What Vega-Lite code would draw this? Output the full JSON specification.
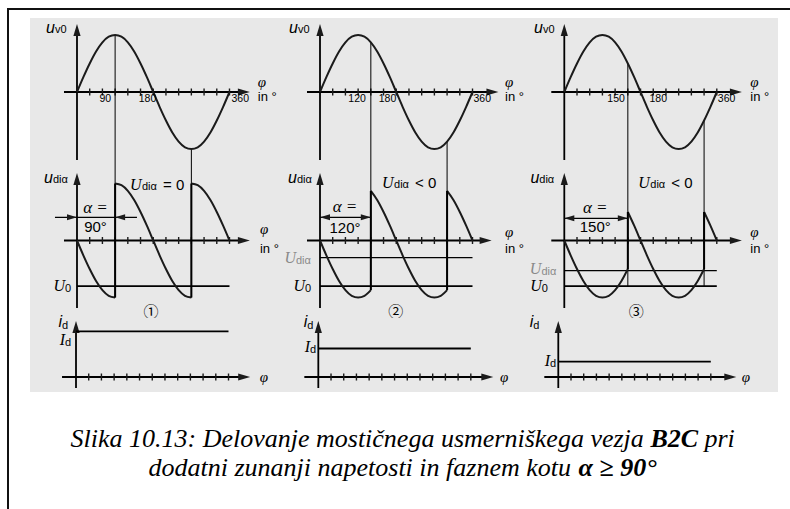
{
  "$schema": "https://vega.github.io/schema/vega-lite/v6.json",
  "padding": {"left": 7, "top": 8, "right": 0, "bottom": 0},
  "background": "white",
  "spacing": 0,
  "datasets": {
    "frame": [{"from": 0, "to": 1, "low": 0, "high": 1}],
    "sine": [
      {"phi": 0, "u": 0}, {"phi": 15, "u": 0.26}, {"phi": 30, "u": 0.5}, {"phi": 45, "u": 0.71},
      {"phi": 60, "u": 0.87}, {"phi": 75, "u": 0.97}, {"phi": 90, "u": 1}, {"phi": 105, "u": 0.97},
      {"phi": 120, "u": 0.87}, {"phi": 135, "u": 0.71}, {"phi": 150, "u": 0.5}, {"phi": 165, "u": 0.26},
      {"phi": 180, "u": 0}, {"phi": 195, "u": -0.26}, {"phi": 210, "u": -0.5}, {"phi": 225, "u": -0.71},
      {"phi": 240, "u": -0.87}, {"phi": 255, "u": -0.97}, {"phi": 270, "u": -1}, {"phi": 285, "u": -0.97},
      {"phi": 300, "u": -0.87}, {"phi": 315, "u": -0.71}, {"phi": 330, "u": -0.5}, {"phi": 345, "u": -0.26},
      {"phi": 360, "u": 0}
    ],
    "udi": [
      {"col": 1, "seg": "a", "phi": 0, "u": 0}, {"col": 1, "seg": "a", "phi": 15, "u": -0.26}, {"col": 1, "seg": "a", "phi": 30, "u": -0.5},
      {"col": 1, "seg": "a", "phi": 45, "u": -0.71}, {"col": 1, "seg": "a", "phi": 60, "u": -0.87}, {"col": 1, "seg": "a", "phi": 75, "u": -0.97},
      {"col": 1, "seg": "a", "phi": 90, "u": -1},
      {"col": 1, "seg": "b", "phi": 90, "u": 1}, {"col": 1, "seg": "b", "phi": 105, "u": 0.97}, {"col": 1, "seg": "b", "phi": 120, "u": 0.87},
      {"col": 1, "seg": "b", "phi": 135, "u": 0.71}, {"col": 1, "seg": "b", "phi": 150, "u": 0.5}, {"col": 1, "seg": "b", "phi": 165, "u": 0.26},
      {"col": 1, "seg": "b", "phi": 180, "u": 0}, {"col": 1, "seg": "b", "phi": 195, "u": -0.26}, {"col": 1, "seg": "b", "phi": 210, "u": -0.5},
      {"col": 1, "seg": "b", "phi": 225, "u": -0.71}, {"col": 1, "seg": "b", "phi": 240, "u": -0.87}, {"col": 1, "seg": "b", "phi": 255, "u": -0.97},
      {"col": 1, "seg": "b", "phi": 270, "u": -1},
      {"col": 1, "seg": "c", "phi": 270, "u": 1}, {"col": 1, "seg": "c", "phi": 285, "u": 0.97}, {"col": 1, "seg": "c", "phi": 300, "u": 0.87},
      {"col": 1, "seg": "c", "phi": 315, "u": 0.71}, {"col": 1, "seg": "c", "phi": 330, "u": 0.5}, {"col": 1, "seg": "c", "phi": 345, "u": 0.26},
      {"col": 1, "seg": "c", "phi": 360, "u": 0},
      {"col": 2, "seg": "a", "phi": 0, "u": 0}, {"col": 2, "seg": "a", "phi": 15, "u": -0.26}, {"col": 2, "seg": "a", "phi": 30, "u": -0.5},
      {"col": 2, "seg": "a", "phi": 45, "u": -0.71}, {"col": 2, "seg": "a", "phi": 60, "u": -0.87}, {"col": 2, "seg": "a", "phi": 75, "u": -0.97},
      {"col": 2, "seg": "a", "phi": 90, "u": -1}, {"col": 2, "seg": "a", "phi": 105, "u": -0.97}, {"col": 2, "seg": "a", "phi": 120, "u": -0.87},
      {"col": 2, "seg": "b", "phi": 120, "u": 0.87}, {"col": 2, "seg": "b", "phi": 135, "u": 0.71}, {"col": 2, "seg": "b", "phi": 150, "u": 0.5},
      {"col": 2, "seg": "b", "phi": 165, "u": 0.26}, {"col": 2, "seg": "b", "phi": 180, "u": 0}, {"col": 2, "seg": "b", "phi": 195, "u": -0.26},
      {"col": 2, "seg": "b", "phi": 210, "u": -0.5}, {"col": 2, "seg": "b", "phi": 225, "u": -0.71}, {"col": 2, "seg": "b", "phi": 240, "u": -0.87},
      {"col": 2, "seg": "b", "phi": 255, "u": -0.97}, {"col": 2, "seg": "b", "phi": 270, "u": -1}, {"col": 2, "seg": "b", "phi": 285, "u": -0.97},
      {"col": 2, "seg": "b", "phi": 300, "u": -0.87},
      {"col": 2, "seg": "c", "phi": 300, "u": 0.87}, {"col": 2, "seg": "c", "phi": 315, "u": 0.71}, {"col": 2, "seg": "c", "phi": 330, "u": 0.5},
      {"col": 2, "seg": "c", "phi": 345, "u": 0.26}, {"col": 2, "seg": "c", "phi": 360, "u": 0},
      {"col": 3, "seg": "a", "phi": 0, "u": 0}, {"col": 3, "seg": "a", "phi": 15, "u": -0.26}, {"col": 3, "seg": "a", "phi": 30, "u": -0.5},
      {"col": 3, "seg": "a", "phi": 45, "u": -0.71}, {"col": 3, "seg": "a", "phi": 60, "u": -0.87}, {"col": 3, "seg": "a", "phi": 75, "u": -0.97},
      {"col": 3, "seg": "a", "phi": 90, "u": -1}, {"col": 3, "seg": "a", "phi": 105, "u": -0.97}, {"col": 3, "seg": "a", "phi": 120, "u": -0.87},
      {"col": 3, "seg": "a", "phi": 135, "u": -0.71}, {"col": 3, "seg": "a", "phi": 150, "u": -0.5},
      {"col": 3, "seg": "b", "phi": 150, "u": 0.5}, {"col": 3, "seg": "b", "phi": 165, "u": 0.26}, {"col": 3, "seg": "b", "phi": 180, "u": 0},
      {"col": 3, "seg": "b", "phi": 195, "u": -0.26}, {"col": 3, "seg": "b", "phi": 210, "u": -0.5}, {"col": 3, "seg": "b", "phi": 225, "u": -0.71},
      {"col": 3, "seg": "b", "phi": 240, "u": -0.87}, {"col": 3, "seg": "b", "phi": 255, "u": -0.97}, {"col": 3, "seg": "b", "phi": 270, "u": -1},
      {"col": 3, "seg": "b", "phi": 285, "u": -0.97}, {"col": 3, "seg": "b", "phi": 300, "u": -0.87}, {"col": 3, "seg": "b", "phi": 315, "u": -0.71},
      {"col": 3, "seg": "b", "phi": 330, "u": -0.5},
      {"col": 3, "seg": "c", "phi": 330, "u": 0.5}, {"col": 3, "seg": "c", "phi": 345, "u": 0.26}, {"col": 3, "seg": "c", "phi": 360, "u": 0}
    ],
    "jumps": [
      {"col": 1, "phi": 90, "lo": -1, "hi": 1}, {"col": 1, "phi": 270, "lo": -1, "hi": 1},
      {"col": 2, "phi": 120, "lo": -0.87, "hi": 0.87}, {"col": 2, "phi": 300, "lo": -0.87, "hi": 0.87},
      {"col": 3, "phi": 150, "lo": -0.5, "hi": 0.5}, {"col": 3, "phi": 330, "lo": -0.5, "hi": 0.5}
    ],
    "guides": [
      {"col": 1, "phi": 90, "top": 1, "bottom": -1}, {"col": 1, "phi": 270, "top": -1, "bottom": -1},
      {"col": 2, "phi": 120, "top": 0.87, "bottom": -0.87}, {"col": 2, "phi": 300, "top": -0.87, "bottom": -0.87},
      {"col": 3, "phi": 150, "top": 0.5, "bottom": -0.8}, {"col": 3, "phi": 330, "top": -0.5, "bottom": -0.8}
    ],
    "levels": [
      {"col": 1, "name": "U0", "u": -0.8, "from": 0, "to": 360},
      {"col": 2, "name": "U0", "u": -0.8, "from": 0, "to": 360}, {"col": 2, "name": "Udi", "u": -0.3, "from": 0, "to": 360},
      {"col": 3, "name": "U0", "u": -0.8, "from": 0, "to": 360}, {"col": 3, "name": "Udi", "u": -0.53, "from": 0, "to": 360}
    ],
    "current": [
      {"col": 1, "id": 0.8, "from": 0, "to": 360},
      {"col": 2, "id": 0.5, "from": 0, "to": 360},
      {"col": 3, "id": 0.27, "from": 0, "to": 360}
    ],
    "ticks": [
      {"phi": 30, "u": 0, "id": 0}, {"phi": 60, "u": 0, "id": 0}, {"phi": 90, "u": 0, "id": 0}, {"phi": 120, "u": 0, "id": 0},
      {"phi": 150, "u": 0, "id": 0}, {"phi": 180, "u": 0, "id": 0}, {"phi": 210, "u": 0, "id": 0}, {"phi": 240, "u": 0, "id": 0},
      {"phi": 270, "u": 0, "id": 0}, {"phi": 300, "u": 0, "id": 0}, {"phi": 330, "u": 0, "id": 0}, {"phi": 360, "u": 0, "id": 0}
    ]
  },
  "config": {
    "view": {"stroke": null},
    "axis": {"disable": true},
    "mark": {"color": "#1b1b1b"},
    "style": {
      "axisLine": {"stroke": "#1b1b1b", "strokeWidth": 1.8},
      "thinLine": {"stroke": "#1b1b1b", "strokeWidth": 1.3},
      "wave": {"stroke": "#161616", "strokeWidth": 2},
      "guide": {"stroke": "#505050", "strokeWidth": 1},
      "level": {"stroke": "#1b1b1b", "strokeWidth": 1.8},
      "levelThin": {"stroke": "#333333", "strokeWidth": 1.2},
      "num": {"font": "Liberation Sans", "fontSize": 10.5, "fill": "#1b1b1b"},
      "sym": {"font": "Liberation Sans", "fontSize": 16, "fontStyle": "italic", "fill": "#111111"},
      "symSerif": {"font": "Liberation Serif", "fontSize": 16, "fontStyle": "italic", "fill": "#111111"},
      "sub": {"font": "Liberation Sans", "fontSize": 11, "fill": "#111111"},
      "word": {"font": "Liberation Sans", "fontSize": 13, "fill": "#111111"},
      "val": {"font": "Liberation Sans", "fontSize": 15, "fill": "#111111"},
      "greek": {"font": "Liberation Serif", "fontSize": 15, "fontStyle": "italic", "fill": "#111111"},
      "alpha": {"font": "Liberation Serif", "fontSize": 17, "fontStyle": "italic", "fill": "#111111"},
      "circled": {"font": "Noto Sans CJK JP", "fontSize": 15, "fill": "#1b1b1b"},
      "caption": {"font": "Liberation Serif", "fontSize": 26, "fontStyle": "italic", "fill": "#000000"},
      "captionKey": {"font": "Liberation Serif", "fontSize": 26, "fontStyle": "italic", "fontWeight": "bold", "fill": "#000000"}
    }
  },
  "hconcat": [
    {
      "width": 2, "height": 501, "data": {"name": "frame"},
      "view": {"fill": "#111111", "stroke": null},
      "mark": {"type": "rect", "color": "#111111"},
      "encoding": {
        "x": {"field": "from", "type": "quantitative", "axis": null, "scale": {"domain": [0, 1], "nice": false, "zero": false}},
        "x2": {"field": "to"},
        "y": {"field": "low", "type": "quantitative", "axis": null, "scale": {"domain": [0, 1], "nice": false, "zero": false}},
        "y2": {"field": "high"}
      }
    },
    {
      "spacing": 32,
      "vconcat": [
        {
          "columns": 5, "spacing": 0, "bounds": "flush", "align": "each",
          "concat": [
            {"width": 21, "height": 2, "data": {"name": "frame"}, "view": {"fill": "#111111", "stroke": null}, "mark": {"type": "rect", "color": "#111111"}, "encoding": {"x": {"field": "from", "type": "quantitative", "axis": null, "scale": {"domain": [0, 1], "nice": false, "zero": false}}, "x2": {"field": "to"}, "y": {"field": "low", "type": "quantitative", "axis": null, "scale": {"domain": [0, 1], "nice": false, "zero": false}}, "y2": {"field": "high"}}},
            {"width": 249, "height": 2, "data": {"name": "frame"}, "view": {"fill": "#111111", "stroke": null}, "mark": {"type": "rect", "color": "#111111"}, "encoding": {"x": {"field": "from", "type": "quantitative", "axis": null, "scale": {"domain": [0, 1], "nice": false, "zero": false}}, "x2": {"field": "to"}, "y": {"field": "low", "type": "quantitative", "axis": null, "scale": {"domain": [0, 1], "nice": false, "zero": false}}, "y2": {"field": "high"}}},
            {"width": 249, "height": 2, "data": {"name": "frame"}, "view": {"fill": "#111111", "stroke": null}, "mark": {"type": "rect", "color": "#111111"}, "encoding": {"x": {"field": "from", "type": "quantitative", "axis": null, "scale": {"domain": [0, 1], "nice": false, "zero": false}}, "x2": {"field": "to"}, "y": {"field": "low", "type": "quantitative", "axis": null, "scale": {"domain": [0, 1], "nice": false, "zero": false}}, "y2": {"field": "high"}}},
            {"width": 250, "height": 2, "data": {"name": "frame"}, "view": {"fill": "#111111", "stroke": null}, "mark": {"type": "rect", "color": "#111111"}, "encoding": {"x": {"field": "from", "type": "quantitative", "axis": null, "scale": {"domain": [0, 1], "nice": false, "zero": false}}, "x2": {"field": "to"}, "y": {"field": "low", "type": "quantitative", "axis": null, "scale": {"domain": [0, 1], "nice": false, "zero": false}}, "y2": {"field": "high"}}},
            {"width": 12, "height": 2, "data": {"name": "frame"}, "view": {"fill": "#111111", "stroke": null}, "mark": {"type": "rect", "color": "#111111"}, "encoding": {"x": {"field": "from", "type": "quantitative", "axis": null, "scale": {"domain": [0, 1], "nice": false, "zero": false}}, "x2": {"field": "to"}, "y": {"field": "low", "type": "quantitative", "axis": null, "scale": {"domain": [0, 1], "nice": false, "zero": false}}, "y2": {"field": "high"}}},
            {"width": 21, "height": 8, "data": {"values": []}, "mark": "point"},
            {"width": 1, "height": 1, "data": {"values": []}, "mark": "point"},
            {"width": 1, "height": 1, "data": {"values": []}, "mark": "point"},
            {"width": 1, "height": 1, "data": {"values": []}, "mark": "point"},
            {"width": 1, "height": 1, "data": {"values": []}, "mark": "point"},
            {"width": 21, "height": 1, "data": {"values": []}, "mark": "point"},
            {
              "width": 249, "height": 147, "view": {"fill": "#e8e8e8", "stroke": null},
              "encoding": {
                "x": {"field": "phi", "type": "quantitative", "axis": null, "scale": {"domain": [-110.95, 476.9], "nice": false, "zero": false}},
                "y": {"field": "u", "type": "quantitative", "axis": null, "scale": {"domain": [-1.2807, 1.2982], "nice": false, "zero": false}}
              },
              "layer": [
                {"data": {"values": [{"phi": -30.7, "phi2": 394, "u": 0, "u2": 0}, {"phi": 0, "phi2": 0, "u": -1.193, "u2": 1.088}]}, "mark": {"type": "rule", "style": "axisLine"}, "encoding": {"x2": {"field": "phi2"}, "y2": {"field": "u2"}}},
                {"data": {"values": [{"phi": 394, "u": 0}]}, "mark": {"type": "point", "shape": "M-1,-0.6L1,0L-1,0.6Z", "size": 144, "filled": true, "opacity": 1}},
                {"data": {"values": [{"phi": 0, "u": 1.088}]}, "mark": {"type": "point", "shape": "M-0.6,1L0,-1L0.6,1Z", "size": 144, "filled": true, "opacity": 1}},
                {"data": {"name": "ticks"}, "mark": {"type": "tick", "orient": "vertical", "size": 7, "thickness": 1.4, "opacity": 1}},
                {"data": {"name": "guides"}, "transform": [{"filter": "datum.col == 1"}], "mark": {"type": "rule", "style": "guide"}, "encoding": {"y": {"field": "top", "type": "quantitative"}, "y2": {"value": "height"}}},
                {"data": {"name": "sine"}, "mark": {"type": "line", "style": "wave", "interpolate": "monotone"}},
                {"data": {"values": [{"phi": 80.6, "u": -0.167, "label": "90"}, {"phi": 187.1, "u": -0.167, "label": "180"}]}, "mark": {"type": "text", "style": "num", "align": "right", "baseline": "alphabetic"}, "encoding": {"text": {"field": "label"}}},
                {"data": {"values": [{"phi": 364.7, "u": -0.167, "label": "360"}]}, "mark": {"type": "text", "style": "num", "align": "left", "baseline": "alphabetic"}, "encoding": {"text": {"field": "label"}}},
                {"data": {"values": [{"phi": -51.9, "u": 1.035, "label": "u"}]}, "mark": {"type": "text", "style": "sym", "align": "right", "baseline": "alphabetic"}, "encoding": {"text": {"field": "label"}}},
                {"data": {"values": [{"phi": -51.9, "u": 1.035, "label": "v0"}]}, "mark": {"type": "text", "style": "sub", "align": "left", "baseline": "alphabetic"}, "encoding": {"text": {"field": "label"}}},
                {"data": {"values": [{"phi": 427, "u": 0.088, "label": "φ"}]}, "mark": {"type": "text", "style": "greek", "align": "left", "baseline": "alphabetic"}, "encoding": {"text": {"field": "label"}}},
                {"data": {"values": [{"phi": 427, "u": -0.158, "label": "in °"}]}, "mark": {"type": "text", "style": "word", "align": "left", "baseline": "alphabetic"}, "encoding": {"text": {"field": "label"}}}
              ]
            },
            {
              "width": 249, "height": 147, "view": {"fill": "#e8e8e8", "stroke": null},
              "encoding": {
                "x": {"field": "phi", "type": "quantitative", "axis": null, "scale": {"domain": [-96.79, 491.0], "nice": false, "zero": false}},
                "y": {"field": "u", "type": "quantitative", "axis": null, "scale": {"domain": [-1.2807, 1.2982], "nice": false, "zero": false}}
              },
              "layer": [
                {"data": {"values": [{"phi": -30.7, "phi2": 407, "u": 0, "u2": 0}, {"phi": 0, "phi2": 0, "u": -1.193, "u2": 1.088}]}, "mark": {"type": "rule", "style": "axisLine"}, "encoding": {"x2": {"field": "phi2"}, "y2": {"field": "u2"}}},
                {"data": {"values": [{"phi": 407, "u": 0}]}, "mark": {"type": "point", "shape": "M-1,-0.6L1,0L-1,0.6Z", "size": 144, "filled": true, "opacity": 1}},
                {"data": {"values": [{"phi": 0, "u": 1.088}]}, "mark": {"type": "point", "shape": "M-0.6,1L0,-1L0.6,1Z", "size": 144, "filled": true, "opacity": 1}},
                {"data": {"name": "ticks"}, "mark": {"type": "tick", "orient": "vertical", "size": 7, "thickness": 1.4, "opacity": 1}},
                {"data": {"name": "guides"}, "transform": [{"filter": "datum.col == 2"}], "mark": {"type": "rule", "style": "guide"}, "encoding": {"y": {"field": "top", "type": "quantitative"}, "y2": {"value": "height"}}},
                {"data": {"name": "sine"}, "mark": {"type": "line", "style": "wave", "interpolate": "monotone"}},
                {"data": {"values": [{"phi": 108.2, "u": -0.167, "label": "120"}, {"phi": 180, "u": -0.167, "label": "180"}]}, "mark": {"type": "text", "style": "num", "align": "right", "baseline": "alphabetic"}, "encoding": {"text": {"field": "label"}}},
                {"data": {"values": [{"phi": 362.4, "u": -0.167, "label": "360"}]}, "mark": {"type": "text", "style": "num", "align": "left", "baseline": "alphabetic"}, "encoding": {"text": {"field": "label"}}},
                {"data": {"values": [{"phi": -51.9, "u": 1.035, "label": "u"}]}, "mark": {"type": "text", "style": "sym", "align": "right", "baseline": "alphabetic"}, "encoding": {"text": {"field": "label"}}},
                {"data": {"values": [{"phi": -51.9, "u": 1.035, "label": "v0"}]}, "mark": {"type": "text", "style": "sub", "align": "left", "baseline": "alphabetic"}, "encoding": {"text": {"field": "label"}}},
                {"data": {"values": [{"phi": 437, "u": 0.088, "label": "φ"}]}, "mark": {"type": "text", "style": "greek", "align": "left", "baseline": "alphabetic"}, "encoding": {"text": {"field": "label"}}},
                {"data": {"values": [{"phi": 437, "u": -0.158, "label": "in °"}]}, "mark": {"type": "text", "style": "word", "align": "left", "baseline": "alphabetic"}, "encoding": {"text": {"field": "label"}}}
              ]
            },
            {
              "width": 250, "height": 147, "view": {"fill": "#e8e8e8", "stroke": null},
              "encoding": {
                "x": {"field": "phi", "type": "quantitative", "axis": null, "scale": {"domain": [-85.69, 504.5], "nice": false, "zero": false}},
                "y": {"field": "u", "type": "quantitative", "axis": null, "scale": {"domain": [-1.2807, 1.2982], "nice": false, "zero": false}}
              },
              "layer": [
                {"data": {"values": [{"phi": -30.7, "phi2": 405, "u": 0, "u2": 0}, {"phi": 0, "phi2": 0, "u": -1.193, "u2": 1.088}]}, "mark": {"type": "rule", "style": "axisLine"}, "encoding": {"x2": {"field": "phi2"}, "y2": {"field": "u2"}}},
                {"data": {"values": [{"phi": 405, "u": 0}]}, "mark": {"type": "point", "shape": "M-1,-0.6L1,0L-1,0.6Z", "size": 144, "filled": true, "opacity": 1}},
                {"data": {"values": [{"phi": 0, "u": 1.088}]}, "mark": {"type": "point", "shape": "M-0.6,1L0,-1L0.6,1Z", "size": 144, "filled": true, "opacity": 1}},
                {"data": {"name": "ticks"}, "mark": {"type": "tick", "orient": "vertical", "size": 7, "thickness": 1.4, "opacity": 1}},
                {"data": {"name": "guides"}, "transform": [{"filter": "datum.col == 3"}], "mark": {"type": "rule", "style": "guide"}, "encoding": {"y": {"field": "top", "type": "quantitative"}, "y2": {"value": "height"}}},
                {"data": {"name": "sine"}, "mark": {"type": "line", "style": "wave", "interpolate": "monotone"}},
                {"data": {"values": [{"phi": 142.9, "u": -0.167, "label": "150"}]}, "mark": {"type": "text", "style": "num", "align": "right", "baseline": "alphabetic"}, "encoding": {"text": {"field": "label"}}},
                {"data": {"values": [{"phi": 201.2, "u": -0.167, "label": "180"}, {"phi": 362.4, "u": -0.167, "label": "360"}]}, "mark": {"type": "text", "style": "num", "align": "left", "baseline": "alphabetic"}, "encoding": {"text": {"field": "label"}}},
                {"data": {"values": [{"phi": -50.5, "u": 1.035, "label": "u"}]}, "mark": {"type": "text", "style": "sym", "align": "right", "baseline": "alphabetic"}, "encoding": {"text": {"field": "label"}}},
                {"data": {"values": [{"phi": -50.5, "u": 1.035, "label": "v0"}]}, "mark": {"type": "text", "style": "sub", "align": "left", "baseline": "alphabetic"}, "encoding": {"text": {"field": "label"}}},
                {"data": {"values": [{"phi": 439, "u": 0.088, "label": "φ"}]}, "mark": {"type": "text", "style": "greek", "align": "left", "baseline": "alphabetic"}, "encoding": {"text": {"field": "label"}}},
                {"data": {"values": [{"phi": 439, "u": -0.158, "label": "in °"}]}, "mark": {"type": "text", "style": "word", "align": "left", "baseline": "alphabetic"}, "encoding": {"text": {"field": "label"}}}
              ]
            },
            {"width": 1, "height": 1, "data": {"values": []}, "mark": "point"},
            {"width": 21, "height": 1, "data": {"values": []}, "mark": "point"},
            {
              "width": 249, "height": 153, "view": {"fill": "#e8e8e8", "stroke": null},
              "encoding": {
                "x": {"field": "phi", "type": "quantitative", "axis": null, "scale": {"domain": [-110.95, 476.9], "nice": false, "zero": false}},
                "y": {"field": "u", "type": "quantitative", "axis": null, "scale": {"domain": [-1.3596, 1.3246], "nice": false, "zero": false}}
              },
              "layer": [
                {"data": {"values": [{"phi": -30.7, "phi2": 394, "u": 0, "u2": 0}, {"phi": 0, "phi2": 0, "u": -1.184, "u2": 1.079}]}, "mark": {"type": "rule", "style": "axisLine"}, "encoding": {"x2": {"field": "phi2"}, "y2": {"field": "u2"}}},
                {"data": {"values": [{"phi": 394, "u": 0}]}, "mark": {"type": "point", "shape": "M-1,-0.6L1,0L-1,0.6Z", "size": 144, "filled": true, "opacity": 1}},
                {"data": {"values": [{"phi": 0, "u": 1.079}]}, "mark": {"type": "point", "shape": "M-0.6,1L0,-1L0.6,1Z", "size": 144, "filled": true, "opacity": 1}},
                {"data": {"name": "ticks"}, "mark": {"type": "tick", "orient": "vertical", "size": 7, "thickness": 1.4, "opacity": 1}},
                {"data": {"name": "guides"}, "transform": [{"filter": "datum.col == 1"}], "mark": {"type": "rule", "style": "guide"}, "encoding": {"y": {"field": "bottom", "type": "quantitative"}, "y2": {"value": 0}}},
                {"data": {"name": "levels"}, "transform": [{"filter": "datum.col == 1 && datum.name == 'U0'"}], "mark": {"type": "rule", "style": "level"}, "encoding": {"x": {"field": "from", "type": "quantitative"}, "x2": {"field": "to"}}},
                {"data": {"name": "udi"}, "transform": [{"filter": "datum.col == 1"}], "mark": {"type": "line", "style": "wave", "interpolate": "monotone"}, "encoding": {"detail": {"field": "seg"}}},
                {"data": {"name": "jumps"}, "transform": [{"filter": "datum.col == 1"}], "mark": {"type": "rule", "style": "wave"}, "encoding": {"y": {"field": "lo", "type": "quantitative"}, "y2": {"field": "hi"}}},
                {"data": {"values": [{"phi": -52, "phi2": 141.6, "u": 0.407}]}, "mark": {"type": "rule", "style": "thinLine"}, "encoding": {"x2": {"field": "phi2"}}},
                {"data": {"values": [{"phi": -11.8, "u": 0.407}]}, "mark": {"type": "point", "shape": "M-1,-0.6L1,0L-1,0.6Z", "size": 100, "filled": true, "opacity": 1}},
                {"data": {"values": [{"phi": 101.8, "u": 0.407}]}, "mark": {"type": "point", "shape": "M1,-0.6L-1,0L1,0.6Z", "size": 100, "filled": true, "opacity": 1}},
                {"data": {"values": [{"phi": 43.7, "u": 0.482, "label": "α ="}]}, "mark": {"type": "text", "style": "alpha", "align": "center", "baseline": "alphabetic"}, "encoding": {"text": {"field": "label"}}},
                {"data": {"values": [{"phi": 43.7, "u": 0.149, "label": "90°"}]}, "mark": {"type": "text", "style": "val", "align": "center", "baseline": "alphabetic"}, "encoding": {"text": {"field": "label"}}},
                {"data": {"values": [{"phi": -56.7, "u": 1.009, "label": "u"}]}, "mark": {"type": "text", "style": "sym", "align": "right", "baseline": "alphabetic"}, "encoding": {"text": {"field": "label"}}},
                {"data": {"values": [{"phi": -56.7, "u": 1.009, "label": "diα"}, {"phi": 153.4, "u": 0.886, "label": "diα"}]}, "mark": {"type": "text", "style": "sub", "align": "left", "baseline": "alphabetic"}, "encoding": {"text": {"field": "label"}}},
                {"data": {"values": [{"phi": 125.1, "u": 0.886, "label": "U"}]}, "mark": {"type": "text", "style": "symSerif", "align": "left", "baseline": "alphabetic"}, "encoding": {"text": {"field": "label"}}},
                {"data": {"values": [{"phi": 203.0, "u": 0.886, "label": "= 0"}]}, "mark": {"type": "text", "style": "val", "align": "left", "baseline": "alphabetic"}, "encoding": {"text": {"field": "label"}}},
                {"data": {"values": [{"phi": -28.3, "u": -0.8, "label": "U"}]}, "mark": {"type": "text", "style": "symSerif", "align": "right", "baseline": "middle"}, "encoding": {"text": {"field": "label"}}},
                {"data": {"values": [{"phi": -28.3, "u": -0.8, "label": "0"}]}, "mark": {"type": "text", "style": "sub", "align": "left", "baseline": "middle", "dy": 3}, "encoding": {"text": {"field": "label"}}},
                {"data": {"values": [{"phi": 175, "u": -1.254, "label": "①"}]}, "mark": {"type": "text", "style": "circled", "align": "center", "baseline": "middle"}, "encoding": {"text": {"field": "label"}}},
                {"data": {"values": [{"phi": 432, "u": 0.114, "label": "φ"}]}, "mark": {"type": "text", "style": "greek", "align": "left", "baseline": "alphabetic"}, "encoding": {"text": {"field": "label"}}},
                {"data": {"values": [{"phi": 432, "u": -0.219, "label": "in °"}]}, "mark": {"type": "text", "style": "word", "align": "left", "baseline": "alphabetic"}, "encoding": {"text": {"field": "label"}}}
              ]
            },
            {
              "width": 249, "height": 153, "view": {"fill": "#e8e8e8", "stroke": null},
              "encoding": {
                "x": {"field": "phi", "type": "quantitative", "axis": null, "scale": {"domain": [-96.79, 491.0], "nice": false, "zero": false}},
                "y": {"field": "u", "type": "quantitative", "axis": null, "scale": {"domain": [-1.3596, 1.3246], "nice": false, "zero": false}}
              },
              "layer": [
                {"data": {"values": [{"phi": -30.7, "phi2": 391, "u": 0, "u2": 0}, {"phi": 0, "phi2": 0, "u": -1.184, "u2": 1.079}]}, "mark": {"type": "rule", "style": "axisLine"}, "encoding": {"x2": {"field": "phi2"}, "y2": {"field": "u2"}}},
                {"data": {"values": [{"phi": 391, "u": 0}]}, "mark": {"type": "point", "shape": "M-1,-0.6L1,0L-1,0.6Z", "size": 144, "filled": true, "opacity": 1}},
                {"data": {"values": [{"phi": 0, "u": 1.079}]}, "mark": {"type": "point", "shape": "M-0.6,1L0,-1L0.6,1Z", "size": 144, "filled": true, "opacity": 1}},
                {"data": {"name": "ticks"}, "mark": {"type": "tick", "orient": "vertical", "size": 7, "thickness": 1.4, "opacity": 1}},
                {"data": {"name": "guides"}, "transform": [{"filter": "datum.col == 2"}], "mark": {"type": "rule", "style": "guide"}, "encoding": {"y": {"field": "bottom", "type": "quantitative"}, "y2": {"value": 0}}},
                {"data": {"name": "levels"}, "transform": [{"filter": "datum.col == 2 && datum.name == 'U0'"}], "mark": {"type": "rule", "style": "level"}, "encoding": {"x": {"field": "from", "type": "quantitative"}, "x2": {"field": "to"}}},
                {"data": {"name": "levels"}, "transform": [{"filter": "datum.col == 2 && datum.name == 'Udi'"}], "mark": {"type": "rule", "style": "levelThin"}, "encoding": {"x": {"field": "from", "type": "quantitative"}, "x2": {"field": "to"}}},
                {"data": {"name": "udi"}, "transform": [{"filter": "datum.col == 2"}], "mark": {"type": "line", "style": "wave", "interpolate": "monotone"}, "encoding": {"detail": {"field": "seg"}}},
                {"data": {"name": "jumps"}, "transform": [{"filter": "datum.col == 2"}], "mark": {"type": "rule", "style": "wave"}, "encoding": {"y": {"field": "lo", "type": "quantitative"}, "y2": {"field": "hi"}}},
                {"data": {"values": [{"phi": 0, "phi2": 120, "u": 0.407}]}, "mark": {"type": "rule", "style": "thinLine"}, "encoding": {"x2": {"field": "phi2"}}},
                {"data": {"values": [{"phi": 11.8, "u": 0.407}]}, "mark": {"type": "point", "shape": "M1,-0.6L-1,0L1,0.6Z", "size": 100, "filled": true, "opacity": 1}},
                {"data": {"values": [{"phi": 108.2, "u": 0.407}]}, "mark": {"type": "point", "shape": "M-1,-0.6L1,0L-1,0.6Z", "size": 100, "filled": true, "opacity": 1}},
                {"data": {"values": [{"phi": 59, "u": 0.5, "label": "α ="}]}, "mark": {"type": "text", "style": "alpha", "align": "center", "baseline": "alphabetic"}, "encoding": {"text": {"field": "label"}}},
                {"data": {"values": [{"phi": 59, "u": 0.132, "label": "120°"}]}, "mark": {"type": "text", "style": "val", "align": "center", "baseline": "alphabetic"}, "encoding": {"text": {"field": "label"}}},
                {"data": {"values": [{"phi": -54.3, "u": 1.009, "label": "u"}]}, "mark": {"type": "text", "style": "sym", "align": "right", "baseline": "alphabetic"}, "encoding": {"text": {"field": "label"}}},
                {"data": {"values": [{"phi": -54.3, "u": 1.009, "label": "diα"}, {"phi": 174.7, "u": 0.921, "label": "diα"}]}, "mark": {"type": "text", "style": "sub", "align": "left", "baseline": "alphabetic"}, "encoding": {"text": {"field": "label"}}},
                {"data": {"values": [{"phi": 146.4, "u": 0.921, "label": "U"}]}, "mark": {"type": "text", "style": "symSerif", "align": "left", "baseline": "alphabetic"}, "encoding": {"text": {"field": "label"}}},
                {"data": {"values": [{"phi": 224.3, "u": 0.921, "label": "< 0"}]}, "mark": {"type": "text", "style": "val", "align": "left", "baseline": "alphabetic"}, "encoding": {"text": {"field": "label"}}},
                {"data": {"values": [{"phi": -35.4, "u": -0.8, "label": "U"}]}, "mark": {"type": "text", "style": "symSerif", "align": "right", "baseline": "middle"}, "encoding": {"text": {"field": "label"}}},
                {"data": {"values": [{"phi": -35.4, "u": -0.8, "label": "0"}]}, "mark": {"type": "text", "style": "sub", "align": "left", "baseline": "middle", "dy": 3}, "encoding": {"text": {"field": "label"}}},
                {"data": {"values": [{"phi": -56.7, "u": -0.3, "label": "U"}]}, "mark": {"type": "text", "style": "symSerif", "color": "#8a8a8a", "align": "right", "baseline": "middle"}, "encoding": {"text": {"field": "label"}}},
                {"data": {"values": [{"phi": -56.7, "u": -0.3, "label": "diα"}]}, "mark": {"type": "text", "style": "sub", "color": "#8a8a8a", "align": "left", "baseline": "middle", "dy": 3}, "encoding": {"text": {"field": "label"}}},
                {"data": {"values": [{"phi": 179, "u": -1.254, "label": "②"}]}, "mark": {"type": "text", "style": "circled", "align": "center", "baseline": "middle"}, "encoding": {"text": {"field": "label"}}},
                {"data": {"values": [{"phi": 437, "u": 0.06, "label": "φ"}]}, "mark": {"type": "text", "style": "greek", "align": "left", "baseline": "alphabetic"}, "encoding": {"text": {"field": "label"}}},
                {"data": {"values": [{"phi": 437, "u": -0.219, "label": "in °"}]}, "mark": {"type": "text", "style": "word", "align": "left", "baseline": "alphabetic"}, "encoding": {"text": {"field": "label"}}}
              ]
            },
            {
              "width": 250, "height": 153, "view": {"fill": "#e8e8e8", "stroke": null},
              "encoding": {
                "x": {"field": "phi", "type": "quantitative", "axis": null, "scale": {"domain": [-85.69, 504.5], "nice": false, "zero": false}},
                "y": {"field": "u", "type": "quantitative", "axis": null, "scale": {"domain": [-1.3596, 1.3246], "nice": false, "zero": false}}
              },
              "layer": [
                {"data": {"values": [{"phi": -30.7, "phi2": 405, "u": 0, "u2": 0}, {"phi": 0, "phi2": 0, "u": -1.184, "u2": 1.079}]}, "mark": {"type": "rule", "style": "axisLine"}, "encoding": {"x2": {"field": "phi2"}, "y2": {"field": "u2"}}},
                {"data": {"values": [{"phi": 405, "u": 0}]}, "mark": {"type": "point", "shape": "M-1,-0.6L1,0L-1,0.6Z", "size": 144, "filled": true, "opacity": 1}},
                {"data": {"values": [{"phi": 0, "u": 1.079}]}, "mark": {"type": "point", "shape": "M-0.6,1L0,-1L0.6,1Z", "size": 144, "filled": true, "opacity": 1}},
                {"data": {"name": "ticks"}, "mark": {"type": "tick", "orient": "vertical", "size": 7, "thickness": 1.4, "opacity": 1}},
                {"data": {"name": "guides"}, "transform": [{"filter": "datum.col == 3"}], "mark": {"type": "rule", "style": "guide"}, "encoding": {"y": {"field": "bottom", "type": "quantitative"}, "y2": {"value": 0}}},
                {"data": {"name": "levels"}, "transform": [{"filter": "datum.col == 3 && datum.name == 'U0'"}], "mark": {"type": "rule", "style": "level"}, "encoding": {"x": {"field": "from", "type": "quantitative"}, "x2": {"field": "to"}}},
                {"data": {"name": "levels"}, "transform": [{"filter": "datum.col == 3 && datum.name == 'Udi'"}], "mark": {"type": "rule", "style": "levelThin"}, "encoding": {"x": {"field": "from", "type": "quantitative"}, "x2": {"field": "to"}}},
                {"data": {"name": "udi"}, "transform": [{"filter": "datum.col == 3"}], "mark": {"type": "line", "style": "wave", "interpolate": "monotone"}, "encoding": {"detail": {"field": "seg"}}},
                {"data": {"name": "jumps"}, "transform": [{"filter": "datum.col == 3"}], "mark": {"type": "rule", "style": "wave"}, "encoding": {"y": {"field": "lo", "type": "quantitative"}, "y2": {"field": "hi"}}},
                {"data": {"values": [{"phi": 0, "phi2": 150, "u": 0.389}]}, "mark": {"type": "rule", "style": "thinLine"}, "encoding": {"x2": {"field": "phi2"}}},
                {"data": {"values": [{"phi": 11.8, "u": 0.389}]}, "mark": {"type": "point", "shape": "M1,-0.6L-1,0L1,0.6Z", "size": 100, "filled": true, "opacity": 1}},
                {"data": {"values": [{"phi": 138.2, "u": 0.389}]}, "mark": {"type": "point", "shape": "M-1,-0.6L1,0L-1,0.6Z", "size": 100, "filled": true, "opacity": 1}},
                {"data": {"values": [{"phi": 73, "u": 0.482, "label": "α ="}]}, "mark": {"type": "text", "style": "alpha", "align": "center", "baseline": "alphabetic"}, "encoding": {"text": {"field": "label"}}},
                {"data": {"values": [{"phi": 73, "u": 0.149, "label": "150°"}]}, "mark": {"type": "text", "style": "val", "align": "center", "baseline": "alphabetic"}, "encoding": {"text": {"field": "label"}}},
                {"data": {"values": [{"phi": -59, "u": 1.009, "label": "u"}]}, "mark": {"type": "text", "style": "sym", "align": "right", "baseline": "alphabetic"}, "encoding": {"text": {"field": "label"}}},
                {"data": {"values": [{"phi": -59, "u": 1.009, "label": "diα"}, {"phi": 203.0, "u": 0.921, "label": "diα"}]}, "mark": {"type": "text", "style": "sub", "align": "left", "baseline": "alphabetic"}, "encoding": {"text": {"field": "label"}}},
                {"data": {"values": [{"phi": 174.7, "u": 0.921, "label": "U"}]}, "mark": {"type": "text", "style": "symSerif", "align": "left", "baseline": "alphabetic"}, "encoding": {"text": {"field": "label"}}},
                {"data": {"values": [{"phi": 252.6, "u": 0.921, "label": "< 0"}]}, "mark": {"type": "text", "style": "val", "align": "left", "baseline": "alphabetic"}, "encoding": {"text": {"field": "label"}}},
                {"data": {"values": [{"phi": -53, "u": -0.8, "label": "U"}]}, "mark": {"type": "text", "style": "symSerif", "align": "right", "baseline": "middle"}, "encoding": {"text": {"field": "label"}}},
                {"data": {"values": [{"phi": -53, "u": -0.8, "label": "0"}]}, "mark": {"type": "text", "style": "sub", "align": "left", "baseline": "middle", "dy": 3}, "encoding": {"text": {"field": "label"}}},
                {"data": {"values": [{"phi": -54, "u": -0.5, "label": "U"}]}, "mark": {"type": "text", "style": "symSerif", "color": "#8a8a8a", "align": "right", "baseline": "middle"}, "encoding": {"text": {"field": "label"}}},
                {"data": {"values": [{"phi": -54, "u": -0.5, "label": "diα"}]}, "mark": {"type": "text", "style": "sub", "color": "#8a8a8a", "align": "left", "baseline": "middle", "dy": 3}, "encoding": {"text": {"field": "label"}}},
                {"data": {"values": [{"phi": 170, "u": -1.254, "label": "③"}]}, "mark": {"type": "text", "style": "circled", "align": "center", "baseline": "middle"}, "encoding": {"text": {"field": "label"}}},
                {"data": {"values": [{"phi": 439, "u": 0.06, "label": "φ"}]}, "mark": {"type": "text", "style": "greek", "align": "left", "baseline": "alphabetic"}, "encoding": {"text": {"field": "label"}}},
                {"data": {"values": [{"phi": 439, "u": -0.219, "label": "in °"}]}, "mark": {"type": "text", "style": "word", "align": "left", "baseline": "alphabetic"}, "encoding": {"text": {"field": "label"}}}
              ]
            },
            {"width": 1, "height": 1, "data": {"values": []}, "mark": "point"},
            {"width": 21, "height": 1, "data": {"values": []}, "mark": "point"},
            {
              "width": 249, "height": 74, "view": {"fill": "#e8e8e8", "stroke": null},
              "encoding": {
                "x": {"field": "phi", "type": "quantitative", "axis": null, "scale": {"domain": [-108.6, 479.2], "nice": false, "zero": false}},
                "y": {"field": "id", "type": "quantitative", "axis": null, "scale": {"domain": [-0.263, 1.035], "nice": false, "zero": false}}
              },
              "layer": [
                {"data": {"values": [{"phi": -33, "phi2": 397, "id": 0, "id2": 0}, {"phi": 0, "phi2": 0, "id": -0.193, "id2": 0.877}]}, "mark": {"type": "rule", "style": "axisLine"}, "encoding": {"x2": {"field": "phi2"}, "y2": {"field": "id2"}}},
                {"data": {"values": [{"phi": 397, "id": 0}]}, "mark": {"type": "point", "shape": "M-1,-0.6L1,0L-1,0.6Z", "size": 144, "filled": true, "opacity": 1}},
                {"data": {"values": [{"phi": 0, "id": 0.877}]}, "mark": {"type": "point", "shape": "M-0.6,1L0,-1L0.6,1Z", "size": 144, "filled": true, "opacity": 1}},
                {"data": {"name": "ticks"}, "mark": {"type": "tick", "orient": "vertical", "size": 7, "thickness": 1.4, "opacity": 1}},
                {"data": {"name": "current"}, "transform": [{"filter": "datum.col == 1"}], "mark": {"type": "rule", "style": "level"}, "encoding": {"x": {"field": "from", "type": "quantitative"}, "x2": {"field": "to"}}},
                {"data": {"values": [{"phi": -33, "id": 0.877, "label": "i"}]}, "mark": {"type": "text", "style": "sym", "align": "right", "baseline": "alphabetic"}, "encoding": {"text": {"field": "label"}}},
                {"data": {"values": [{"phi": -33, "id": 0.842, "label": "d"}]}, "mark": {"type": "text", "style": "sub", "align": "left", "baseline": "alphabetic"}, "encoding": {"text": {"field": "label"}}},
                {"data": {"values": [{"phi": -26, "id": 0.649, "label": "I"}]}, "mark": {"type": "text", "style": "symSerif", "align": "right", "baseline": "middle"}, "encoding": {"text": {"field": "label"}}},
                {"data": {"values": [{"phi": -26, "id": 0.649, "label": "d"}]}, "mark": {"type": "text", "style": "sub", "align": "left", "baseline": "middle", "dy": 3}, "encoding": {"text": {"field": "label"}}},
                {"data": {"values": [{"phi": 434, "id": 0, "label": "φ"}]}, "mark": {"type": "text", "style": "greek", "align": "left", "baseline": "middle"}, "encoding": {"text": {"field": "label"}}}
              ]
            },
            {
              "width": 249, "height": 74, "view": {"fill": "#e8e8e8", "stroke": null},
              "encoding": {
                "x": {"field": "phi", "type": "quantitative", "axis": null, "scale": {"domain": [-92.8, 495.0], "nice": false, "zero": false}},
                "y": {"field": "id", "type": "quantitative", "axis": null, "scale": {"domain": [-0.263, 1.035], "nice": false, "zero": false}}
              },
              "layer": [
                {"data": {"values": [{"phi": -33, "phi2": 399, "id": 0, "id2": 0}, {"phi": 0, "phi2": 0, "id": -0.193, "id2": 0.877}]}, "mark": {"type": "rule", "style": "axisLine"}, "encoding": {"x2": {"field": "phi2"}, "y2": {"field": "id2"}}},
                {"data": {"values": [{"phi": 399, "id": 0}]}, "mark": {"type": "point", "shape": "M-1,-0.6L1,0L-1,0.6Z", "size": 144, "filled": true, "opacity": 1}},
                {"data": {"values": [{"phi": 0, "id": 0.877}]}, "mark": {"type": "point", "shape": "M-0.6,1L0,-1L0.6,1Z", "size": 144, "filled": true, "opacity": 1}},
                {"data": {"name": "ticks"}, "mark": {"type": "tick", "orient": "vertical", "size": 7, "thickness": 1.4, "opacity": 1}},
                {"data": {"name": "current"}, "transform": [{"filter": "datum.col == 2"}], "mark": {"type": "rule", "style": "level"}, "encoding": {"x": {"field": "from", "type": "quantitative"}, "x2": {"field": "to"}}},
                {"data": {"values": [{"phi": -26, "id": 0.877, "label": "i"}]}, "mark": {"type": "text", "style": "sym", "align": "right", "baseline": "alphabetic"}, "encoding": {"text": {"field": "label"}}},
                {"data": {"values": [{"phi": -26, "id": 0.842, "label": "d"}]}, "mark": {"type": "text", "style": "sub", "align": "left", "baseline": "alphabetic"}, "encoding": {"text": {"field": "label"}}},
                {"data": {"values": [{"phi": -19.6, "id": 0.526, "label": "I"}]}, "mark": {"type": "text", "style": "symSerif", "align": "right", "baseline": "middle"}, "encoding": {"text": {"field": "label"}}},
                {"data": {"values": [{"phi": -19.6, "id": 0.526, "label": "d"}]}, "mark": {"type": "text", "style": "sub", "align": "left", "baseline": "middle", "dy": 3}, "encoding": {"text": {"field": "label"}}},
                {"data": {"values": [{"phi": 429, "id": 0, "label": "φ"}]}, "mark": {"type": "text", "style": "greek", "align": "left", "baseline": "middle"}, "encoding": {"text": {"field": "label"}}}
              ]
            },
            {
              "width": 250, "height": 74, "view": {"fill": "#e8e8e8", "stroke": null},
              "encoding": {
                "x": {"field": "phi", "type": "quantitative", "axis": null, "scale": {"domain": [-71.5, 518.6], "nice": false, "zero": false}},
                "y": {"field": "id", "type": "quantitative", "axis": null, "scale": {"domain": [-0.263, 1.035], "nice": false, "zero": false}}
              },
              "layer": [
                {"data": {"values": [{"phi": -33, "phi2": 406, "id": 0, "id2": 0}, {"phi": 0, "phi2": 0, "id": -0.193, "id2": 0.877}]}, "mark": {"type": "rule", "style": "axisLine"}, "encoding": {"x2": {"field": "phi2"}, "y2": {"field": "id2"}}},
                {"data": {"values": [{"phi": 406, "id": 0}]}, "mark": {"type": "point", "shape": "M-1,-0.6L1,0L-1,0.6Z", "size": 144, "filled": true, "opacity": 1}},
                {"data": {"values": [{"phi": 0, "id": 0.877}]}, "mark": {"type": "point", "shape": "M-0.6,1L0,-1L0.6,1Z", "size": 144, "filled": true, "opacity": 1}},
                {"data": {"name": "ticks"}, "mark": {"type": "tick", "orient": "vertical", "size": 7, "thickness": 1.4, "opacity": 1}},
                {"data": {"name": "current"}, "transform": [{"filter": "datum.col == 3"}], "mark": {"type": "rule", "style": "level"}, "encoding": {"x": {"field": "from", "type": "quantitative"}, "x2": {"field": "to"}}},
                {"data": {"values": [{"phi": -59, "id": 0.877, "label": "i"}]}, "mark": {"type": "text", "style": "sym", "align": "right", "baseline": "alphabetic"}, "encoding": {"text": {"field": "label"}}},
                {"data": {"values": [{"phi": -59, "id": 0.842, "label": "d"}]}, "mark": {"type": "text", "style": "sub", "align": "left", "baseline": "alphabetic"}, "encoding": {"text": {"field": "label"}}},
                {"data": {"values": [{"phi": -19.6, "id": 0.281, "label": "I"}]}, "mark": {"type": "text", "style": "symSerif", "align": "right", "baseline": "middle"}, "encoding": {"text": {"field": "label"}}},
                {"data": {"values": [{"phi": -19.6, "id": 0.281, "label": "d"}]}, "mark": {"type": "text", "style": "sub", "align": "left", "baseline": "middle", "dy": 3}, "encoding": {"text": {"field": "label"}}},
                {"data": {"values": [{"phi": 433, "id": 0, "label": "φ"}]}, "mark": {"type": "text", "style": "greek", "align": "left", "baseline": "middle"}, "encoding": {"text": {"field": "label"}}}
              ]
            },
            {"width": 1, "height": 1, "data": {"values": []}, "mark": "point"}
          ]
        },
        {
          "width": 769, "height": 58,
          "data": {"values": [
            {"line": 1, "part": "lead", "text": "Slika 10.13: Delovanje mostičnega usmerniškega vezja"},
            {"line": 1, "part": "key", "text": "B2C"},
            {"line": 1, "part": "tail", "text": "pri"},
            {"line": 2, "part": "lead", "text": "dodatni zunanji napetosti in faznem kotu"},
            {"line": 2, "part": "key", "text": "α ≥ 90°"}
          ]},
          "encoding": {
            "y": {"field": "line", "type": "ordinal", "axis": null, "scale": {"type": "point", "padding": 0.5}},
            "text": {"field": "text"}
          },
          "layer": [
            {"transform": [{"filter": "datum.line == 1 && datum.part == 'lead'"}], "mark": {"type": "text", "style": "caption", "align": "left", "dx": -323}},
            {"transform": [{"filter": "datum.line == 1 && datum.part == 'key'"}], "mark": {"type": "text", "style": "captionKey", "align": "left", "dx": 257}},
            {"transform": [{"filter": "datum.line == 1 && datum.part == 'tail'"}], "mark": {"type": "text", "style": "caption", "align": "left", "dx": 311}},
            {"transform": [{"filter": "datum.line == 2 && datum.part == 'lead'"}], "mark": {"type": "text", "style": "caption", "align": "left", "dx": -245}},
            {"transform": [{"filter": "datum.line == 2 && datum.part == 'key'"}], "mark": {"type": "text", "style": "captionKey", "align": "left", "dx": 185}}
          ]
        }
      ]
    }
  ]
}
